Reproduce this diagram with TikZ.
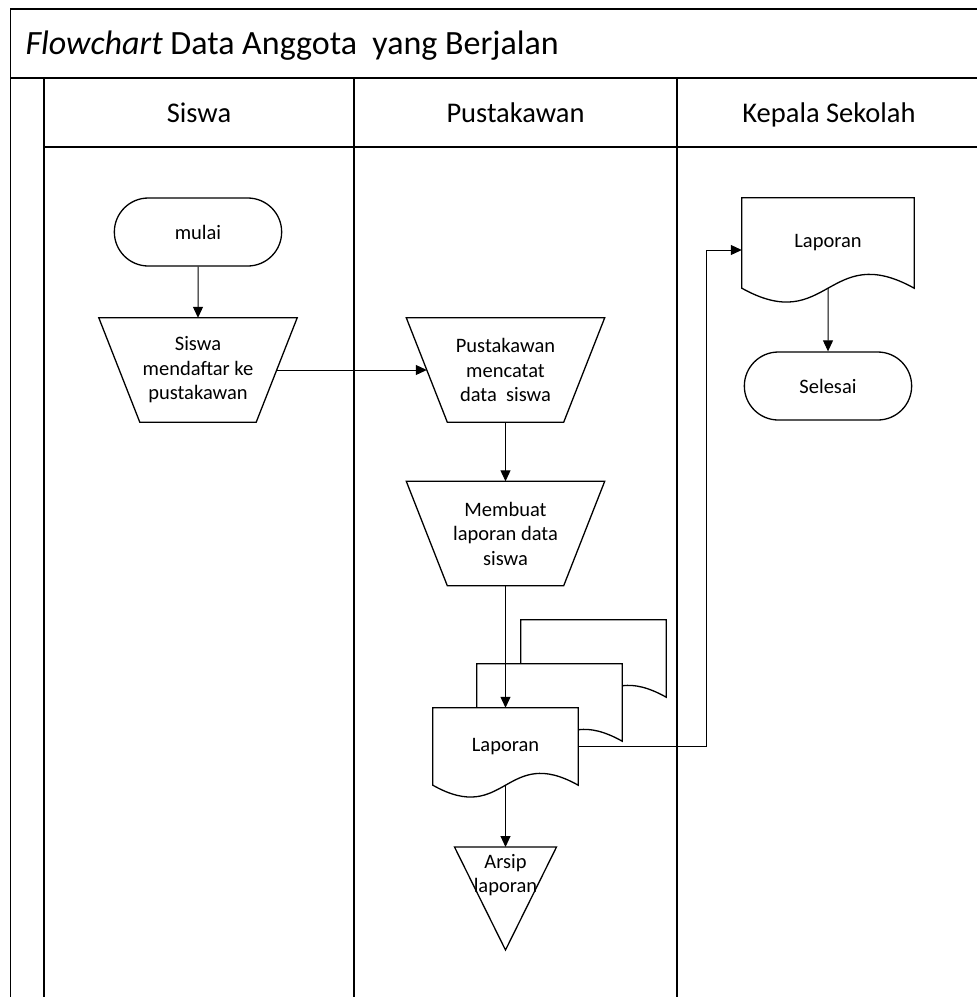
\documentclass[tikz,border=0pt]{standalone}
\usepackage{fontspec}
\setmainfont{Carlito}
\usetikzlibrary{shapes.misc,arrows.meta,calc,backgrounds}

\tikzset{
	lane/.style={line width=1.6pt},
	shp/.style={draw,line width=1.3pt},
	txt/.style={font=\fontsize{20.5}{24.5}\selectfont,align=center},
	head/.style={font=\fontsize{28.5}{34}\selectfont,anchor=base},
	terminal/.style={shp,txt,rounded rectangle,minimum width=174pt,minimum height=68pt},
	manual/.style={txt,rectangle,minimum width=157pt,minimum height=104pt,inner sep=0pt},
	docnode/.style={txt,rectangle,inner sep=0pt},
	flow/.style={-{Triangle[length=11pt,width=10pt]},line width=1pt},
}

% outline of a document shape round node #1, wave depth #2
\newcommand{\docshape}[2]{%
	\draw[shp,fill=white] (#1.north west) -- (#1.north east) -- (#1.south east)
		.. controls ($(#1.south)+(0,-#2)$) and ($(#1.south)+(0,#2)$) .. (#1.south west) -- cycle;}
% outline of a manual operation round node #1 (node width = mid width)
\newcommand{\trapshape}[1]{%
	\draw[shp] ($(#1.north west)+(-20.5,0)$) -- ($(#1.north east)+(20.5,0)$)
		-- ($(#1.south east)+(-20.5,0)$) -- ($(#1.south west)+(20.5,0)$) -- cycle;}

\begin{document}
\begin{tikzpicture}[x=1pt,y=-1pt]
	\useasboundingbox (0,0) rectangle (977,997);
	% swimlane frame
	\draw[lane] (977,9)--(10.5,9)--(10.5,997);
	\draw[lane] (10.5,78)--(977,78);
	\draw[lane] (44,78)--(44,997);
	\draw[lane] (44,147)--(977,147);
	\draw[lane] (354,78)--(354,997);
	\draw[lane] (677,78)--(677,997);
	\node[anchor=base west,font=\fontsize{34}{40}\selectfont] (judul) at (22,54) {\textit{Flowchart} Data Anggota\ \ yang Berjalan};
	\node[head] (hSiswa) at (199,122) {Siswa};
	\node[head] (hPustaka) at (515.5,122) {Pustakawan};
	\node[head] (hKepsek) at (829,122) {Kepala Sekolah};

	% siswa
	\node[terminal] (mulai) at (198,232) {mulai};
	\node[manual] (daftar) at (198,370) {Siswa\\mendaftar ke\\pustakawan};
	\trapshape{daftar}

	% pustakawan
	\node[manual] (catat) at (505.5,370) {Pustakawan\\mencatat\\data\ \ siswa};
	\trapshape{catat}
	\node[manual] (buat) at (505.5,533.5) {Membuat\\laporan data\\siswa};
	\trapshape{buat}
	\node[docnode,minimum width=145pt,minimum height=77pt] (lapC) at (593.5,658.5) {};
	\node[docnode,minimum width=145pt,minimum height=77pt] (lapB) at (549.5,702.5) {};
	\node[docnode,minimum width=145pt,minimum height=77pt] (lapA) at (505.5,746.5) {Laporan};
	\begin{scope}[on background layer]
		\docshape{lapC}{41}
		\docshape{lapB}{41}
		\docshape{lapA}{41}
	\end{scope}
	\node[txt] (arsip) at (505.5,875) {Arsip\\laporan};
	\coordinate (arsipTop) at (505.5,847);
	\draw[shp] (454.5,847)--(556.5,847)--(505.5,950)--cycle;

	% kepala sekolah
	\node[docnode,minimum width=172pt,minimum height=90pt] (lapK) at (828,243) {Laporan};
	\begin{scope}[on background layer]
		\docshape{lapK}{48}
	\end{scope}
	\node[terminal] (selesai) at (828,386) {Selesai};

	% connectors
	\coordinate (belok) at (706,250);
	\draw[flow] (mulai)--(daftar);
	\draw[flow] (daftar)--(catat);
	\draw[flow] (catat)--(buat);
	\draw[flow] (buat)--(lapA);
	\draw[flow] (lapA)--(arsipTop);
	\draw[flow] (lapA.east) -| (belok) -- (belok -| lapK.west);
	\draw[flow] (lapK)--(selesai);
\end{tikzpicture}
\end{document}
